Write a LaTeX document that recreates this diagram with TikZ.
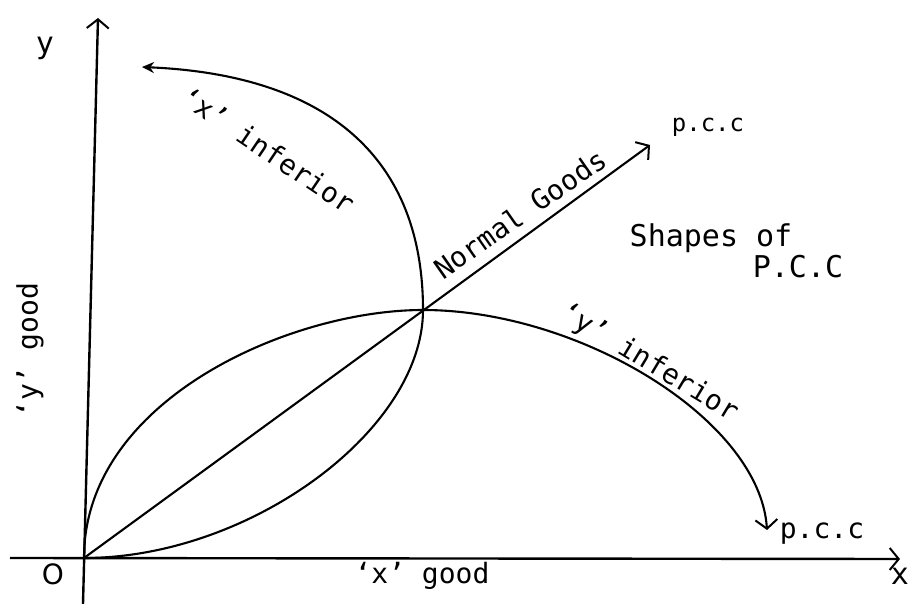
\documentclass[tikz,border=0pt]{standalone}
\usepackage{fontspec}
\newfontfamily\hand{DejaVu Sans Mono}
\newfontfamily\handwide{DejaVu Sans}
\usetikzlibrary{arrows.meta}
\tikzset{
  curve/.style={line width=2.1pt},
  axis/.style={line width=2.4pt},
  barb/.style={-{Straight Barb[length=9pt,width=22pt,line width=2pt]}},
  lbl/.style={font=\hand\fontsize{28}{32}\selectfont, inner sep=1pt},
  smalllbl/.style={font=\hand\fontsize{24}{28}\selectfont, inner sep=1pt},
  biglbl/.style={font=\hand\fontsize{30}{34}\selectfont, inner sep=1pt}
}
\begin{document}
\begin{tikzpicture}[x=1pt,y=-1pt]
\useasboundingbox[fill=white] (0,0) rectangle (914,604);
% key points
\coordinate (O) at (84,558);
\coordinate (P) at (423,310);
\coordinate (xe) at (142,67);
\coordinate (ye) at (767,530);
\coordinate (pe) at (650,145);
\coordinate (ytop) at (98,18);
\coordinate (ybot) at (83,604);
\coordinate (xl) at (10,558);
\coordinate (xr) at (900,559);
% axes
\draw[axis, barb] (ybot) -- (ytop);
\draw[axis, barb] (xl) -- (xr);
% 'x' inferior curve
\draw[curve, -{Stealth[length=12pt,width=11pt]}] (O) .. controls (250,558) and (423,430) .. (P)
      .. controls (423,160) and (330,75) .. (xe);
% 'y' inferior curve
\draw[curve, barb] (O) .. controls (84,400) and (290,310) .. (P)
      .. controls (580,310) and (760,420) .. (ye);
% normal goods pcc
\draw[curve, barb] (O) -- (pe);
% labels
\node[biglbl] (ylab) at (45,48) {y};
\node[biglbl] (xlab) at (900,576) {x};
\node[font=\handwide\fontsize{28}{32}\selectfont, inner sep=1pt] (olab) at (53,574) {O};
\node[lbl] (xgood) at (422,576) {‘x’ good};
\node[lbl, rotate=90] (ygood) at (30,350) {‘y’ good};
\node[lbl, rotate=-34] (xinf) at (268,150) {‘x’ inferior};
\node[lbl, rotate=35] (normal) at (520,214) {Normal Goods};
\node[smalllbl] (pcc1) at (708,127) {p.c.c};
\node[biglbl] (shapes) at (711,238) {Shapes of};
\node[biglbl] (pcc2) at (798,267) {P.C.C};
\node[lbl, rotate=-31] (yinf) at (649,363) {‘y’ inferior};
\node[lbl] (pcc3) at (822,534) {p.c.c};
\end{tikzpicture}
\end{document}
